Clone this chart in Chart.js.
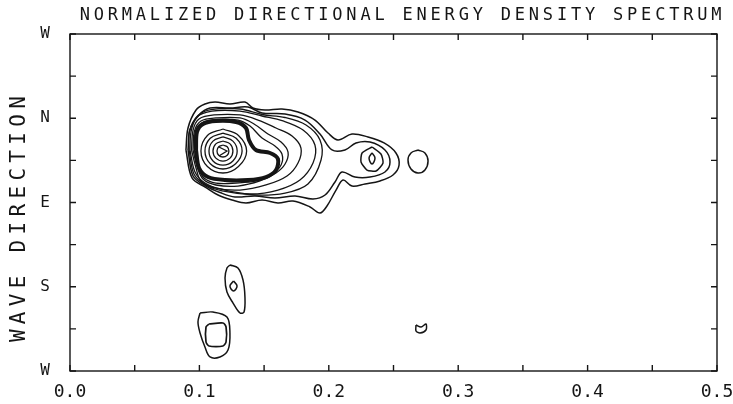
<!DOCTYPE html>
<html>
<head>
<meta charset="utf-8">
<title>Normalized directional energy density spectrum</title>
<script src="https://cdn.jsdelivr.net/npm/chart.js@4.4.1/dist/chart.umd.min.js"></script>
<style>
  html, body { margin: 0; padding: 0; background: #fff; }
  #wrap { width: 733px; height: 404px; }
</style>
</head>
<body>
<div id="wrap"><canvas id="spectrumChart" width="733" height="404"></canvas></div>
<script>
"use strict";

/*
 * Contour lines of the spectrum.
 * Each point is [frequency (Hz), direction (deg, 0 = W at bottom, 360 = W at top)]
 */
var chartTitle = 'NORMALIZED DIRECTIONAL ENERGY DENSITY SPECTRUM';
var yAxisTitle = 'WAVE DIRECTION';

var freqTickLabels = ['0.0', '0.1', '0.2', '0.3', '0.4', '0.5'];
var dirTickLabels = ['W', 'S', 'E', 'N', 'W'];

// outer contours, reaching out to the second peak near 0.23 Hz
var outerContour = [[0.0896, 236.1], [0.0912, 259.6], [0.0974, 278.8], [0.1043, 285.2], [0.1121, 287.3],
    [0.1236, 285.2], [0.1352, 287.3], [0.1414, 280.9], [0.1507, 278.8], [0.1638, 279.9], [0.1762, 276.7],
    [0.1893, 268.1], [0.1994, 254.2], [0.2071, 246.8], [0.2179, 253.2], [0.2303, 250.0], [0.2427, 243.6],
    [0.2519, 232.9], [0.2543, 220.0], [0.2496, 209.4], [0.2396, 203.0], [0.2280, 199.8], [0.2179, 197.6],
    [0.2110, 204.0], [0.2056, 193.3], [0.1986, 176.3], [0.1932, 168.8], [0.1855, 175.2], [0.1723, 181.6],
    [0.1607, 179.5], [0.1484, 182.7], [0.1360, 179.5], [0.1252, 182.7], [0.1144, 188.0], [0.1051, 196.0],
    [0.0943, 206.2]];
var secondContour = [[0.0912, 236.1], [0.0927, 257.4], [0.0997, 273.5], [0.1082, 280.9], [0.1236, 280.9],
    [0.1376, 282.0], [0.1484, 275.6], [0.1662, 274.5], [0.1816, 268.1], [0.1932, 253.2], [0.2025, 236.1],
    [0.2125, 236.1], [0.2210, 243.6], [0.2318, 244.6], [0.2434, 236.1], [0.2473, 223.3], [0.2434, 212.6],
    [0.2318, 207.2], [0.2202, 207.2], [0.2102, 212.6], [0.2048, 201.9], [0.1971, 188.0], [0.1878, 183.7],
    [0.1739, 186.9], [0.1584, 184.8], [0.1430, 186.9], [0.1275, 185.9], [0.1159, 190.7], [0.1051, 197.6],
    [0.0951, 208.3]];
var peak2Contour = [[0.2334, 239.3], [0.2403, 231.8], [0.2419, 222.2], [0.2365, 213.6], [0.2295, 214.7],
    [0.2249, 223.3], [0.2257, 232.9]];
var peak2Inner = [[0.2334, 232.9], [0.2357, 227.5], [0.2334, 221.1], [0.2311, 227.5]];
var islandEast = [[0.2689, 236.1], [0.2743, 232.9], [0.2767, 224.3], [0.2743, 214.7], [0.2689, 211.5],
    [0.2635, 215.8], [0.2612, 225.4], [0.2635, 232.9]];

// contours around the main peak
var middle4 = [[0.0920, 236.1], [0.0923, 256.4], [0.0989, 272.9], [0.1090, 279.3], [0.1314, 279.9],
    [0.1484, 274.0], [0.1662, 270.8], [0.1824, 262.8], [0.1932, 246.8], [0.1940, 225.4], [0.1839, 199.8],
    [0.1662, 190.1], [0.1430, 188.0], [0.1175, 192.3], [0.1043, 199.2], [0.0958, 210.4]];
var middle3 = [[0.0927, 236.1], [0.0935, 255.3], [0.0981, 271.3], [0.1097, 277.7], [0.1314, 277.7],
    [0.1484, 272.4], [0.1646, 267.1], [0.1801, 257.4], [0.1893, 241.4], [0.1878, 222.2], [0.1777, 204.0],
    [0.1607, 193.3], [0.1391, 189.1], [0.1175, 193.9], [0.1043, 200.8], [0.0966, 212.6]];
var middle2 = [[0.0939, 236.1], [0.0951, 257.4], [0.0997, 269.2], [0.1113, 273.5], [0.1314, 273.5],
    [0.1453, 268.1], [0.1592, 259.6], [0.1716, 251.0], [0.1785, 238.2], [0.1762, 222.2], [0.1677, 208.3],
    [0.1515, 198.7], [0.1314, 193.3], [0.1121, 195.5], [0.1012, 203.0], [0.0974, 216.8]];
var middle1 = [[0.0951, 236.1], [0.0962, 256.4], [0.1012, 267.1], [0.1128, 270.3], [0.1314, 270.3],
    [0.1422, 263.9], [0.1530, 253.2], [0.1631, 244.6], [0.1685, 233.9], [0.1662, 221.1], [0.1592, 211.5],
    [0.1468, 203.0], [0.1298, 197.6], [0.1128, 198.7], [0.1028, 205.1], [0.0981, 218.9]];
var middle0 = [[0.0962, 236.1], [0.0970, 256.4], [0.1016, 264.9], [0.1128, 268.7], [0.1298, 268.1],
    [0.1391, 261.7], [0.1484, 248.9], [0.1584, 240.3], [0.1638, 231.8], [0.1631, 220.0], [0.1561, 210.4],
    [0.1437, 203.0], [0.1283, 200.8], [0.1128, 200.8], [0.1036, 206.2], [0.0989, 217.9]];
var denseBand = [[0.0974, 236.1], [0.0981, 255.3], [0.1028, 263.9], [0.1128, 267.1], [0.1283, 266.0],
    [0.1360, 259.6], [0.1383, 246.8], [0.1437, 236.1], [0.1546, 232.9], [0.1607, 226.5], [0.1592, 214.7],
    [0.1515, 207.2], [0.1376, 204.0], [0.1198, 204.0], [0.1066, 207.2], [0.0997, 216.8]];
var ring1 = [[0.1182, 258.5], [0.1302, 251.6], [0.1365, 235.0], [0.1302, 218.4], [0.1182, 211.5],
    [0.1062, 218.4], [0.1012, 235.0], [0.1062, 251.6]];
var ring2 = [[0.1182, 254.2], [0.1284, 248.6], [0.1330, 235.0], [0.1280, 221.4], [0.1182, 215.8],
    [0.1084, 221.4], [0.1043, 235.0], [0.1084, 248.6]];
var ring3 = [[0.1182, 250.0], [0.1259, 245.6], [0.1292, 235.0], [0.1259, 224.4], [0.1182, 220.0],
    [0.1105, 224.4], [0.1074, 235.0], [0.1105, 245.6]];
var ring4 = [[0.1182, 245.7], [0.1237, 242.6], [0.1259, 235.0], [0.1237, 227.4], [0.1182, 224.3],
    [0.1127, 227.4], [0.1105, 235.0], [0.1127, 242.6]];
var ring5 = [[0.1182, 241.4], [0.1215, 239.5], [0.1228, 235.0], [0.1215, 230.5], [0.1182, 228.6],
    [0.1149, 230.5], [0.1136, 235.0], [0.1149, 239.5]];
var peakMark = [[0.1151, 239.3], [0.1213, 235.0], [0.1151, 229.7]];

// small patches towards the south-west
var southUpper = [[0.1236, 113.2], [0.1298, 110.0], [0.1337, 97.2], [0.1352, 79.0], [0.1345, 63.0],
    [0.1314, 62.0], [0.1260, 72.6], [0.1213, 84.4], [0.1198, 99.3], [0.1213, 110.0]];
var southUpperInner = [[0.1264, 96.1], [0.1291, 90.8], [0.1264, 85.5], [0.1236, 90.8]];
var southLower = [[0.1005, 62.0], [0.1105, 63.0], [0.1213, 57.7], [0.1236, 40.6], [0.1221, 22.4],
    [0.1159, 15.0], [0.1082, 15.0], [0.1043, 25.6], [0.1005, 40.6], [0.0989, 52.3]];
var southLowerInner = [[0.1074, 50.2], [0.1182, 51.3], [0.1206, 47.0], [0.1206, 31.0], [0.1182, 26.7],
    [0.1074, 26.7], [0.1051, 31.0], [0.1051, 47.0]];
var speckle = [[0.2674, 49.1], [0.2713, 47.0], [0.2751, 50.2], [0.2751, 43.8], [0.2705, 40.6], [0.2674, 42.7]];

var ink = '#151515';
var plotFont = '"DejaVu Sans Mono", monospace';

function toPoints(arr, closed) {
    var pts = arr.map(function (p) { return {x: p[0], y: p[1]}; });
    if (closed) {
        pts.push({x: arr[0][0], y: arr[0][1]});
    }
    return pts;
}

function contour(arr, width, tension, closed) {
    return {
        data: toPoints(arr, closed !== false),
        showLine: true,
        borderColor: ink,
        borderWidth: width,
        tension: tension,
        pointRadius: 0,
        fill: false
    };
}

/*
 * Plotter style frame: box round the plot with inward tick marks, and spaced out titles
 */
var plotterFrame = {
    id: 'plotterFrame',
    afterDraw: function (chart) {
        var ctx = chart.ctx;
        var a = chart.chartArea;
        var xs = chart.scales.x;
        var ys = chart.scales.y;
        var len = 6;

        ctx.save();
        ctx.strokeStyle = ink;
        ctx.lineWidth = 1.4;
        ctx.strokeRect(a.left, a.top, a.right - a.left, a.bottom - a.top);
        ctx.beginPath();
        xs.ticks.forEach(function (t) {
            var p = xs.getPixelForValue(t.value);
            ctx.moveTo(p, a.bottom);
            ctx.lineTo(p, a.bottom - len);
            ctx.moveTo(p, a.top);
            ctx.lineTo(p, a.top + len);
        });
        ys.ticks.forEach(function (t) {
            var p = ys.getPixelForValue(t.value);
            ctx.moveTo(a.left, p);
            ctx.lineTo(a.left + len, p);
            ctx.moveTo(a.right, p);
            ctx.lineTo(a.right - len, p);
        });
        ctx.stroke();

        ctx.fillStyle = ink;
        ctx.textAlign = 'center';
        ctx.textBaseline = 'middle';

        // main title
        ctx.font = '17px ' + plotFont;
        ctx.letterSpacing = '3.8px';
        ctx.fillText(chartTitle, (a.left + a.right) / 2 + 9, 16);

        // axis title
        ctx.font = '21px ' + plotFont;
        ctx.letterSpacing = '5.3px';
        ctx.translate(20, (a.top + a.bottom) / 2 + 14);
        ctx.rotate(-Math.PI / 2);
        ctx.fillText(yAxisTitle, 0, 0);
        ctx.restore();
    }
};

var contours = [
    contour(outerContour, 1.5, 0.35),
    contour(secondContour, 1.5, 0.35),
    contour(peak2Contour, 1.5, 0.2),
    contour(peak2Inner, 1.5, 0.4),
    contour(islandEast, 1.5, 0.4),
    contour(middle4, 1.3, 0.35),
    contour(middle3, 1.3, 0.35),
    contour(middle2, 1.3, 0.35),
    contour(middle1, 1.3, 0.35),
    contour(middle0, 1.3, 0.35),
    contour(denseBand, 4, 0.3),
    contour(ring1, 1.3, 0.4),
    contour(ring2, 1.3, 0.4),
    contour(ring3, 1.3, 0.4),
    contour(ring4, 1.3, 0.4),
    contour(ring5, 1.3, 0.4),
    contour(peakMark, 1.3, 0, false),
    contour(southUpper, 1.5, 0.35),
    contour(southUpperInner, 1.5, 0.4),
    contour(southLower, 1.5, 0.35),
    contour(southLowerInner, 1.7, 0.25),
    contour(speckle, 1.5, 0.3)
];

new Chart(document.getElementById('spectrumChart'), {
    type: 'scatter',
    data: {datasets: contours},
    plugins: [plotterFrame],
    options: {
        responsive: false,
        animation: false,
        layout: {autoPadding: false, padding: {top: 34, left: 40, right: 16, bottom: 0}},
        plugins: {
            legend: {display: false},
            tooltip: {enabled: false},
            title: {display: false}
        },
        scales: {
            x: {
                type: 'linear',
                min: 0,
                max: 0.5,
                grid: {display: false, drawTicks: false},
                border: {display: false},
                afterFit: function (scale) {
                    scale.height = 33;
                    scale.paddingLeft = 0;
                    scale.paddingRight = 0;
                },
                ticks: {
                    stepSize: 0.05,
                    autoSkip: false,
                    maxRotation: 0,
                    padding: 11,
                    color: ink,
                    font: {family: 'DejaVu Sans Mono', size: 18},
                    callback: function (v, i) {
                        return i % 2 === 0 ? freqTickLabels[i / 2] : '';
                    }
                }
            },
            y: {
                type: 'linear',
                min: 0,
                max: 360,
                grid: {display: false, drawTicks: false},
                border: {display: false},
                afterFit: function (scale) {
                    scale.width = 30;
                    scale.paddingTop = 0;
                    scale.paddingBottom = 0;
                },
                ticks: {
                    stepSize: 45,
                    autoSkip: false,
                    padding: 20,
                    color: ink,
                    font: {family: 'DejaVu Sans Mono', size: 16},
                    callback: function (v, i) {
                        return i % 2 === 0 ? dirTickLabels[i / 2] : '';
                    }
                }
            }
        }
    }
});
</script>
</body>
</html>
